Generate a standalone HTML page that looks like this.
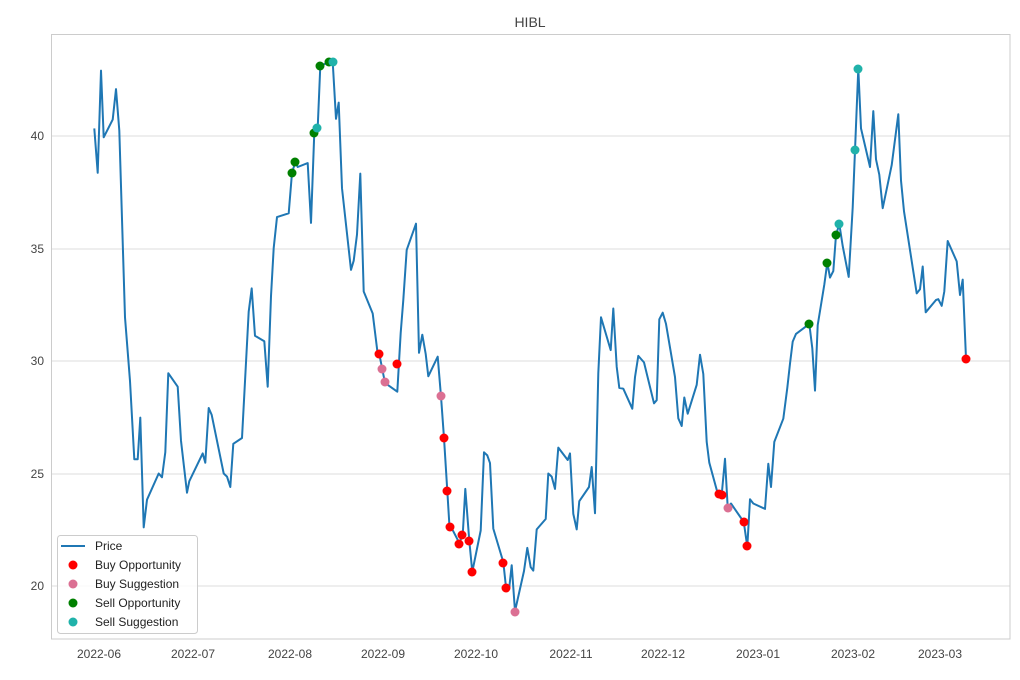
<!DOCTYPE html>
<html><head><meta charset="utf-8"><style>
body{margin:0;background:#fff}
svg{display:block;font-family:"Liberation Sans","DejaVu Sans",sans-serif}
</style></head><body>
<svg width="1020" height="680" viewBox="0 0 1020 680" xmlns="http://www.w3.org/2000/svg">
<rect width="1020" height="680" fill="#fff"/>
<g stroke="#dddddd" stroke-width="1">
<line x1="51" x2="1010" y1="136" y2="136"/><line x1="51" x2="1010" y1="249" y2="249"/>
<line x1="51" x2="1010" y1="361" y2="361"/><line x1="51" x2="1010" y1="474" y2="474"/>
<line x1="51" x2="1010" y1="586" y2="586"/>
</g>
<rect x="51.5" y="34.5" width="958.5" height="604.5" fill="none" stroke="#cccccc"/>
<g font-size="12" fill="#444" text-anchor="end">
<text x="44" y="140">40</text><text x="44" y="253">35</text><text x="44" y="365">30</text>
<text x="44" y="478">25</text><text x="44" y="590">20</text>
</g>
<g font-size="12" fill="#444" text-anchor="middle">
<text x="99" y="658">2022-06</text><text x="193" y="658">2022-07</text><text x="290" y="658">2022-08</text>
<text x="383" y="658">2022-09</text><text x="476" y="658">2022-10</text><text x="571" y="658">2022-11</text>
<text x="663" y="658">2022-12</text><text x="758" y="658">2023-01</text><text x="853" y="658">2023-02</text>
<text x="940" y="658">2023-03</text>
</g>
<text x="530" y="27" font-size="14" fill="#444" text-anchor="middle">HIBL</text>
<polyline fill="none" stroke="#1f77b4" stroke-width="2" stroke-linejoin="round" points="94.3,128.4 97.7,172.8 101,70.6 103.7,137.3 112.7,119.6 116,89.1 119.3,130.4 125,317.3 130,381 134.3,459.2 137.7,459.2 140.3,417.6 143.7,527.4 147,499.7 158.7,473.5 162,477.3 165.3,452.3 168.3,373.2 177.7,386.7 181,440.7 187,492.7 189.3,481.2 202.7,453.4 205.3,462.7 208.7,408 211.7,414.9 223.7,473.5 227,476.6 230.3,487 233.3,443.8 242,438 248.7,311.6 251.7,288.4 255,335.8 264.3,341.2 267.7,386.7 271,296.1 273.7,248 277,217.1 288.7,213.3 292,172.8 295.3,162 297.7,167 307.7,163.1 311,222.9 314.3,132.3 317.7,127.7 320.3,66 329.3,61.8 332.7,61.8 336,118.8 338.7,102.6 342,188.2 351,269.9 353.7,260.7 357,234.5 360.3,173.6 363.7,291.5 372.7,313.5 377.7,354 379.3,354 385,382.9 397.3,391.7 400.7,332.8 403.3,300 406.7,249.9 416,223.7 419,352.8 422.3,334.7 425.7,354 428.3,376.3 437.7,356.7 441,396.4 444,438 447.3,490.8 449.3,523.6 459.3,542.9 462.7,535.2 465.3,488.9 469.3,540.9 472.3,571.8 480.7,530.5 484,452.3 487.3,455.4 490,463.1 493.3,528.6 503.3,562.1 506,587.2 509.3,587.2 511.7,565.2 515,611.1 524,571 527.3,547.9 530.7,567.2 533.3,570.6 536.7,529.4 545.7,519 548.3,473.5 551.7,476.6 555,488.9 558.3,447.6 567.7,460 570,453.4 573.3,513.9 576.7,529.4 579.3,501.2 589,487 591.7,467 595,513.2 598.3,373.2 601,317.3 610.7,350.1 613.3,308.5 616.7,366.7 619.3,387.9 623.3,388.7 632.3,408.7 635,377.1 638.3,355.9 644,362.4 654,403.3 656.7,400.2 659.3,319.3 662.7,312.7 666,323.9 675,377.1 678.3,418.3 681.7,426 684.3,397.5 687.7,413.7 696.7,384.8 700,354.7 703.3,374 706.7,441.9 709.3,462.7 717.3,492 721.7,494.7 725,458.8 727.7,507.4 731,503.5 741.7,519 744,523.6 747.3,546.7 750,499.3 753.3,503.5 765,508.9 768.3,463.8 771,487 774.3,441.9 783.3,418.7 787.3,387.9 790,363.6 792.7,341.6 796,333.9 809.3,323.9 812.3,348.2 815,390.6 817.7,325.1 824.3,284.6 827.3,262.6 830,277.6 833.3,271.1 836,235.2 839.3,224 842.7,246 848.7,276.9 852.7,207.5 855,150.4 858.3,68.7 861,128.4 870,167 873.3,111.1 876,159.3 879.3,174.7 882.7,208.2 891.7,165.1 898.3,114.2 901,180.5 904,211.3 916.7,293.4 920,289.2 922.7,266.5 925.7,312.3 936,300 938.3,299.2 941.7,305.8 944.3,291.5 947.7,241 956.7,261.4 960,295 962.7,279.6 966,358.6"/>
<g fill="#008000">
<circle cx="292" cy="173" r="4.5"/><circle cx="295" cy="162" r="4.5"/><circle cx="314" cy="133" r="4.5"/>
<circle cx="320" cy="66" r="4.5"/><circle cx="329" cy="62" r="4.5"/><circle cx="809" cy="324" r="4.5"/>
<circle cx="827" cy="263" r="4.5"/><circle cx="836" cy="235" r="4.5"/>
</g>
<g fill="#20b2aa">
<circle cx="317" cy="128" r="4.5"/><circle cx="333" cy="62" r="4.5"/><circle cx="839" cy="224" r="4.5"/>
<circle cx="855" cy="150" r="4.5"/><circle cx="858" cy="69" r="4.5"/>
</g>
<g fill="#ff0000">
<circle cx="379" cy="354" r="4.5"/><circle cx="397" cy="364" r="4.5"/><circle cx="444" cy="438" r="4.5"/>
<circle cx="447" cy="491" r="4.5"/><circle cx="450" cy="527" r="4.5"/><circle cx="459" cy="544" r="4.5"/>
<circle cx="462" cy="535" r="4.5"/><circle cx="469" cy="541" r="4.5"/><circle cx="472" cy="572" r="4.5"/>
<circle cx="503" cy="563" r="4.5"/><circle cx="506" cy="588" r="4.5"/><circle cx="719" cy="494" r="4.5"/>
<circle cx="722" cy="495" r="4.5"/><circle cx="744" cy="522" r="4.5"/><circle cx="747" cy="546" r="4.5"/>
<circle cx="966" cy="359" r="4.5"/>
</g>
<g fill="#db7093">
<circle cx="382" cy="369" r="4.5"/><circle cx="385" cy="382" r="4.5"/><circle cx="441" cy="396" r="4.5"/>
<circle cx="515" cy="612" r="4.5"/><circle cx="728" cy="508" r="4.5"/>
</g>
<rect x="57.5" y="535.5" width="140" height="98" rx="3" fill="#fff" fill-opacity="0.85" stroke="#cccccc"/>
<line x1="61" x2="85" y1="546" y2="546" stroke="#1f77b4" stroke-width="2"/>
<circle cx="73" cy="565" r="4.5" fill="#ff0000"/>
<circle cx="73" cy="584" r="4.5" fill="#db7093"/>
<circle cx="73" cy="603" r="4.5" fill="#008000"/>
<circle cx="73" cy="622" r="4.5" fill="#20b2aa"/>
<g font-size="12" fill="#222">
<text x="95" y="550">Price</text><text x="95" y="569">Buy Opportunity</text>
<text x="95" y="588">Buy Suggestion</text><text x="95" y="607">Sell Opportunity</text>
<text x="95" y="626">Sell Suggestion</text>
</g>
</svg>
</body></html>
